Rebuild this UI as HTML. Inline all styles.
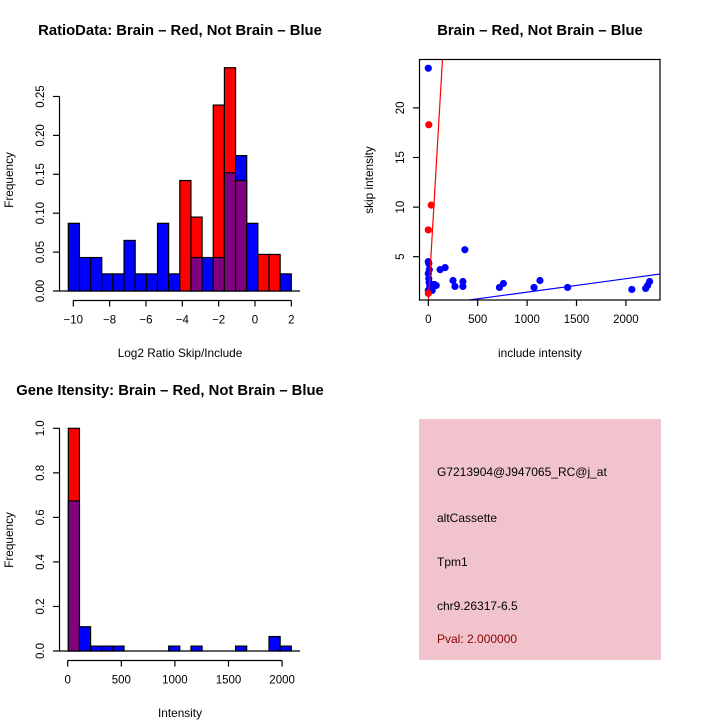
<!DOCTYPE html>
<html><head><meta charset="utf-8"><style>
body{margin:0;background:#fff}
svg{display:block;font-family:"Liberation Sans",sans-serif}
</style></head><body>
<svg id="c" width="720" height="720" viewBox="0 0 720 720">
<text x="180" y="35" font-size="14.8" font-weight="bold" text-anchor="middle">RatioData: Brain – Red, Not Brain – Blue</text>
<text x="540" y="35" font-size="14.8" font-weight="bold" text-anchor="middle">Brain – Red, Not Brain – Blue</text>
<text x="170" y="395" font-size="14.8" font-weight="bold" text-anchor="middle">Gene Itensity: Brain – Red, Not Brain – Blue</text>
<text x="180" y="357" font-size="11.8" text-anchor="middle">Log2 Ratio Skip/Include</text>
<text transform="translate(13,180) rotate(-90)" font-size="11.8" text-anchor="middle">Frequency</text>
<text x="540" y="357" font-size="11.8" text-anchor="middle">include intensity</text>
<text transform="translate(373,180) rotate(-90)" font-size="11.8" text-anchor="middle">skip intensity</text>
<text x="180" y="717" font-size="11.8" text-anchor="middle">Intensity</text>
<text transform="translate(13,540) rotate(-90)" font-size="11.8" text-anchor="middle">Frequency</text>
<g>
<rect x="419" y="419" width="242" height="241" fill="#f1c4cd"/>
<text x="437" y="476" font-size="12">G7213904@J947065_RC@j_at</text>
<text x="437" y="522" font-size="12">altCassette</text>
<text x="437" y="566" font-size="12">Tpm1</text>
<text x="437" y="610" font-size="12">chr9.26317-6.5</text>
<text x="437" y="643" font-size="12" fill="#8b0000">Pval: 2.000000</text>
</g>
</svg>
<script>
const ratioBlue=[0.087,0.043,0.043,0.022,0.022,0.065,0.022,0.022,0.087,0.022,0,0.043,0.043,0.043,0.152,0.174,0.087,0,0,0.022];
const ratioRed=[0,0,0,0,0,0,0,0,0,0,0.142,0.095,0,0.239,0.287,0.142,0,0.047,0.047,0];
const ratioXTicks=[-10,-8,-6,-4,-2,0,2];
const ratioYTicks=[0,0.05,0.10,0.15,0.20,0.25];
const intBlue=[0.674,0.109,0.022,0.022,0.022,0,0,0,0,0.022,0,0.022,0,0,0,0.022,0,0,0.065,0.022];
const intRed=[1.0,0,0,0,0,0,0,0,0,0,0,0,0,0,0,0,0,0,0,0];
const intXTicks=[0,500,1000,1500,2000];
const intYTicks=[0,0.2,0.4,0.6,0.8,1.0];
const blueInc=[0,0,5,10,0,5,8,15,20,30,40,60,80,120,170,250,270,350,350,370,720,760,1070,1130,1410,2060,2200,2220,2240,0,10,25];
const blueSkip=[24,4.5,4.3,3.7,3.3,2.8,2.4,2.0,1.8,2.2,1.6,2.2,2.1,3.7,3.9,2.6,2.0,2.0,2.5,5.7,1.9,2.3,1.9,2.6,1.9,1.7,1.8,2.1,2.5,1.6,1.5,1.8];
const redInc=[5,30,0,0];
const redSkip=[18.3,10.2,7.7,1.3];
const scXTicks=[0,500,1000,1500,2000];
const scYTicks=[5,10,15,20];
const NS='http://www.w3.org/2000/svg';
const svg=document.getElementById('c');
function mk(t,a,p){const e=document.createElementNS(NS,t);for(const k in a)e.setAttribute(k,a[k]);(p||svg).appendChild(e);return e;}
function hist(blue,red,xs,ys,x0,bw,yTicks,xTicks,xTickFn,fmt,nm){
  const g=mk('g',{});
  
  
  mk('line',{x1:59,x2:300,y1:ys(0),y2:ys(0),stroke:'#000','stroke-width':1.3},g);
  for(let i=0;i<blue.length;i++){
    const b=blue[i],r=red[i],hi=Math.max(b,r),lo=Math.min(b,r);
    const x=x0+i*bw;
    if(hi<=0)continue;
    const col=b>=r?'#0000ff':'#ff0000';
    const e=mk('rect',{x:x,y:ys(hi),width:bw,height:ys(0)-ys(hi),fill:col,stroke:'#000','stroke-width':1.2},g);
    
    
    if(lo>0){
      const p=mk('rect',{x:x,y:ys(lo),width:bw,height:ys(0)-ys(lo),fill:'#800080',stroke:'#000','stroke-width':1.2},g);
      
      
    }
  }
  const ya=mk('g',{},g);
  
  
  mk('line',{x1:59.5,x2:59.5,y1:ys(yTicks[0]),y2:ys(yTicks[yTicks.length-1]),stroke:'#000','stroke-width':1.2},ya);
  yTicks.forEach(v=>{const y=ys(v);mk('line',{x1:53,x2:59.5,y1:y,y2:y,stroke:'#000','stroke-width':1.2},ya);
    const t=mk('text',{transform:`translate(44,${y}) rotate(-90)`,'font-size':11.5,'text-anchor':'middle'},ya);t.textContent=fmt(v);});
  const xa=mk('g',{},g);
  
  
  const yb=ys(0)+9.5;
  mk('line',{x1:xs(xTicks[0]),x2:xs(xTicks[xTicks.length-1]),y1:yb,y2:yb,stroke:'#000','stroke-width':1.2},xa);
  xTicks.forEach(v=>{const x=xs(v);mk('line',{x1:x,x2:x,y1:yb,y2:yb+6,stroke:'#000','stroke-width':1.2},xa);
    const t=mk('text',{x:x,y:yb+23,'font-size':11.5,'text-anchor':'middle'},xa);t.textContent=xTickFn(v);});
}
hist(ratioBlue,ratioRed,v=>73.3+(v+10)*18.17,v=>291-v*778,68.3,11.15,ratioYTicks,ratioXTicks,v=>String(v).replace('-','−'),v=>v.toFixed(2),'ratio');
hist(intBlue,intRed,v=>67.7+v*0.1072,v=>651-v*222.7,68.3,11.15,intYTicks,intXTicks,v=>String(v),v=>v.toFixed(1),'intensity');
const sx=v=>428.3+v*0.0988, sy=v=>306.3-v*9.92;
const sg=mk('g',{});


const cp=mk('clipPath',{id:'clp'},sg);
mk('rect',{x:419.5,y:59.5,width:240.5,height:240.5},cp);
const pg=mk('g',{'clip-path':'url(#clp)'},sg);
blueInc.forEach((v,i)=>{const c=mk('circle',{cx:sx(v),cy:sy(blueSkip[i]),r:3.6,fill:'#0000ff'},pg);
  
  });
redInc.forEach((v,i)=>{const c=mk('circle',{cx:sx(v),cy:sy(redSkip[i]),r:3.6,fill:'#ff0000'},pg);
  
  });
const rl=mk('line',{x1:sx(0),y1:sy(0.5),x2:sx(200),y2:sy(0.5+0.17*200),stroke:'#ff0000','stroke-width':1.2},pg);


const bl=mk('line',{x1:sx(0),y1:sy(0.075),x2:sx(2500),y2:sy(0.075+0.001355*2500),stroke:'#0000ff','stroke-width':1.2},pg);


mk('rect',{x:419.5,y:59.5,width:240.5,height:240.5,fill:'none',stroke:'#000','stroke-width':1.2},sg);
const sxa=mk('g',{},sg);


scXTicks.forEach(v=>{const x=sx(v);mk('line',{x1:x,x2:x,y1:300,y2:306,stroke:'#000','stroke-width':1.2},sxa);
  const t=mk('text',{x:x,y:323,'font-size':11.5,'text-anchor':'middle'},sxa);t.textContent=v;});
const sya=mk('g',{},sg);


scYTicks.forEach(v=>{const y=sy(v);mk('line',{x1:413,x2:419.5,y1:y,y2:y,stroke:'#000','stroke-width':1.2},sya);
  const t=mk('text',{transform:`translate(404,${y}) rotate(-90)`,'font-size':11.5,'text-anchor':'middle'},sya);t.textContent=v;});
</script>
</body></html>
